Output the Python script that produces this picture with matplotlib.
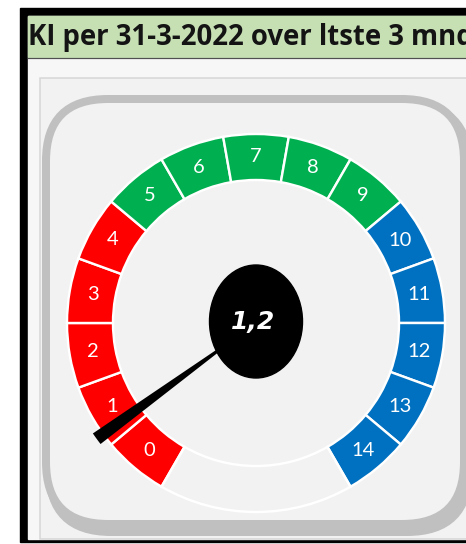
import numpy as np
import matplotlib.pyplot as plt
from matplotlib.patches import Rectangle, Ellipse, FancyBboxPatch

# data
title = "KI per 31-3-2022 over ltste 3 mnd"
segment_labels = ["0", "1", "2", "3", "4", "5", "6", "7", "8", "9",
                  "10", "11", "12", "13", "14"]
segment_sizes = [1, 1, 1, 1, 1, 1, 1, 1, 1, 1, 1, 1, 1, 1, 1]
segment_colors = ["#ff0000", "#ff0000", "#ff0000", "#ff0000", "#ff0000",
                  "#00b050", "#00b050", "#00b050", "#00b050", "#00b050",
                  "#0070c0", "#0070c0", "#0070c0", "#0070c0", "#0070c0"]
gap_size = 3          # empty part at the bottom of the doughnut
ki_value = 1.2
needle_size = 0.19

W, H = 466, 544
PX = 0.72  # points per pixel at dpi 100


def fy(y):
    """ flip screen y (top down) to axes y """
    return H - y


fig = plt.figure(figsize=(W / 100, H / 100), dpi=100)
fig.patch.set_facecolor("white")
ax = fig.add_axes([0, 0, 1, 1])

# frame + title band
ax.add_patch(Rectangle((20, fy(542)), 470, 534, color="black", zorder=0))
ax.add_patch(Rectangle((28, fy(539)), 460, 523, color="#f7f7f7", zorder=0.1))
ax.add_patch(Rectangle((28, fy(57)), 460, 41, color="#c6e0b4", zorder=0.2))
ax.plot([28, 470], [fy(57.5), fy(57.5)], color="#505050", lw=1.2 * PX, zorder=0.3)
ax.text(28, fy(45.5), title, fontsize=19.8, fontfamily="Open Sans", fontweight="bold",
        color="#141414", ha="left", va="baseline", zorder=1)

# chart area
ax.add_patch(Rectangle((40, fy(539)), 440, 461, facecolor="#f2f2f2",
                       edgecolor="#d6d6d6", lw=1.5 * PX, zorder=0.4))

# rounded panel with a shadow at the bottom
ax.add_patch(FancyBboxPatch((49, fy(532)), 420, 428,
                            boxstyle="round,pad=0,rounding_size=62",
                            facecolor="#c0c0c0", edgecolor="#c0c0c0",
                            lw=8 * PX, zorder=0.5))
ax.add_patch(FancyBboxPatch((46, fy(524)), 418, 425,
                            boxstyle="round,pad=0,rounding_size=62",
                            facecolor="#f2f2f2", edgecolor="#c0c0c0",
                            lw=8 * PX, zorder=0.6))

cx, cy = 256, fy(323)

# gauge ring
ring, _ = ax.pie(segment_sizes + [gap_size],
                 colors=segment_colors + ["none"],
                 startangle=240, counterclock=False, radius=189,
                 center=(cx, cy), frame=True,
                 wedgeprops=dict(width=46, edgecolor="white", linewidth=2.4 * PX))
for w in ring:
    w.set_zorder(2)

for wedge, lab in zip(ring[:len(segment_labels)], segment_labels):
    mid = np.deg2rad((wedge.theta1 + wedge.theta2) / 2)
    r = wedge.r - wedge.width / 2
    ax.text(cx + r * np.cos(mid), cy + r * np.sin(mid), lab, fontsize=14.5,
            fontfamily="Lato", color="white", ha="center", va="center", zorder=3)

# needle
total = sum(segment_sizes) + gap_size
needle, _ = ax.pie([ki_value - needle_size / 2, needle_size,
                    total - ki_value - needle_size / 2],
                   colors=["none", "black", "none"], startangle=240,
                   counterclock=False, radius=197, center=(cx, cy), frame=True,
                   wedgeprops=dict(linewidth=0))
for w in needle:
    w.set_zorder(4)

# hub with the value
ax.add_patch(Ellipse((cx, fy(321.5)), 93, 113, color="black", zorder=5))
ax.text(cx - 3, fy(322), f"{ki_value:.1f}".replace(".", ","), fontsize=18,
        fontfamily="DejaVu Sans", fontweight="bold", fontstyle="italic",
        color="white", ha="center", va="center", zorder=6)

ax.set_xlim(0, W)
ax.set_ylim(0, H)
ax.set_aspect("equal")
ax.axis("off")

fig.savefig("out.png", dpi=100, facecolor=fig.get_facecolor())
